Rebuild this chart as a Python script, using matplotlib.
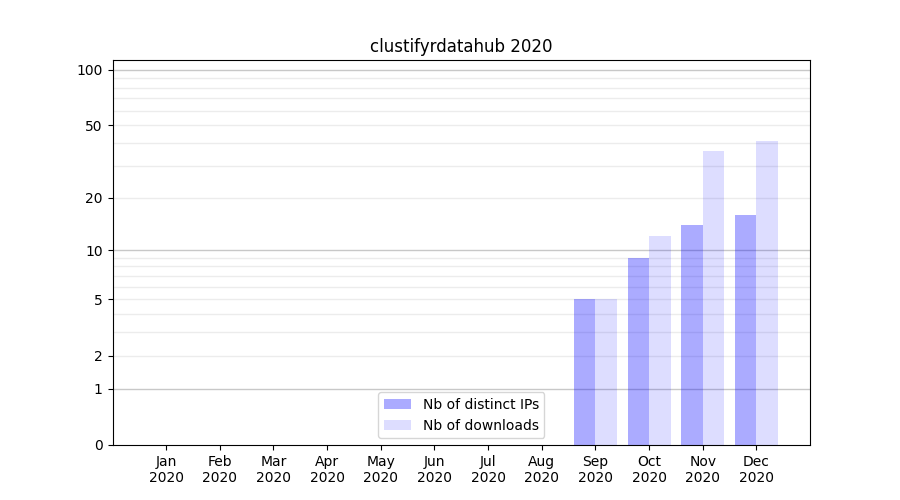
import matplotlib
matplotlib.use("Agg")
import matplotlib.pyplot as plt
import numpy as np

months = ["Jan", "Feb", "Mar", "Apr", "May", "Jun", "Jul", "Aug", "Sep", "Oct", "Nov", "Dec"]
year = "2020"
distinct_ips = [0, 0, 0, 0, 0, 0, 0, 0, 5, 9, 14, 16]
downloads = [0, 0, 0, 0, 0, 0, 0, 0, 5, 12, 36, 41]


def fwd(y):
    return np.log10(np.clip(y, 0, None) + 1)


def inv(y):
    return 10 ** y - 1


fig, ax = plt.subplots(figsize=(9, 5), dpi=100)
ax.set_yscale("function", functions=(fwd, inv))

x = np.arange(1, len(months) + 1)
w = 0.4
ax.bar(x - w / 2, distinct_ips, w, color="blue", alpha=0.33, label="Nb of distinct IPs")
ax.bar(x + w / 2, downloads, w, color="blue", alpha=0.135, label="Nb of downloads")

major = [1, 10, 100]
minor = [2, 3, 4, 5, 6, 7, 8, 9, 20, 30, 40, 50, 60, 70, 80, 90]
for v in major:
    ax.axhline(v, color="#c8c8c8", lw=1, zorder=0)
for v in minor:
    ax.axhline(v, color="#ececec", lw=1, zorder=0)

ax.set_yticks([0, 1, 2, 5, 10, 20, 50, 100])
ax.set_yticklabels(["0", "1", "2", "5", "10", "20", "50", "100"])
ax.minorticks_off()
ax.set_ylim(0, 113)
ax.set_xlim(0, 13)
ax.set_xticks(x)
ax.set_xticklabels([m + "\n" + year for m in months])
ax.set_title("clustifyrdatahub " + year)
ax.legend(loc="lower center")

fig.savefig("out.png")
